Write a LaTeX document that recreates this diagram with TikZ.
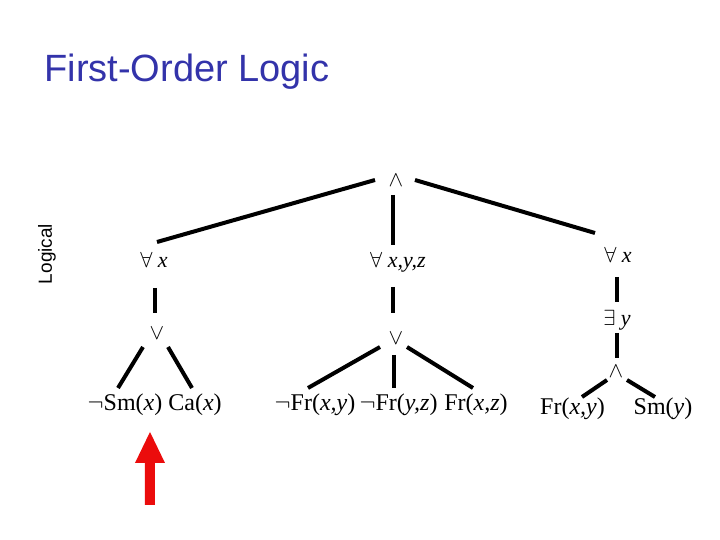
\documentclass[tikz,border=0pt]{standalone}
\usepackage{fontspec}
\setmainfont{Liberation Serif}
\newfontfamily\titlefont{Liberation Sans}
\usetikzlibrary{calc}
\definecolor{titleblue}{RGB}{51,51,170}
\definecolor{arrowred}{RGB}{235,12,12}
\begin{document}
\begin{tikzpicture}[x=0.5pt,y=-0.5pt,
  lbl/.style={inner sep=0pt,anchor=base,font=\fontsize{11}{13}\selectfont},
  leaf/.style={inner sep=0pt,anchor=base,font=\fontsize{12}{14}\selectfont},
  edge/.style={line width=2pt,black}]
\useasboundingbox (0,0) rectangle (720,540);
\fill[white] (0,0) rectangle (720,540);
% title and side label
\node[inner sep=0pt,anchor=base west,text=titleblue,font=\titlefont\fontsize{19}{23}\selectfont] (title) at (44,82) {First-Order Logic};
\node[inner sep=0pt,anchor=base,rotate=90,font=\titlefont\fontsize{9.5}{11}\selectfont] (side) at (52,254) {Logical};
% internal nodes
\node[lbl] (top)  at (396,187) {$\wedge$};
\node[lbl] (fxL)  at (154,268) {$\forall$ \textit{x}};
\node[lbl] (fxyz) at (398,268) {$\forall$ \textit{x,y,z}};
\node[lbl] (fxR)  at (618,263) {$\forall$ \textit{x}};
\node[lbl] (eyR)  at (617,326) {$\exists$ \textit{y}};
\node[lbl] (orL)  at (157,340) {$\vee$};
\node[lbl] (orM)  at (396,345) {$\vee$};
\node[lbl] (andR) at (616,378) {$\wedge$};
% leaves
\node[leaf] (SmL) at (125,411) {$\neg$Sm(\textit{x})};
\node[leaf] (CaL) at (195,411) {Ca(\textit{x})};
\node[leaf] (Fr1) at (315,411) {$\neg$Fr(\textit{x,y})};
\node[leaf] (Fr2) at (398.5,411) {$\neg$Fr(\textit{y,z})};
\node[leaf] (Fr3) at (476,411) {Fr(\textit{x,z})};
\node[leaf] (FrR) at (572.5,415) {Fr(\textit{x,y})};
\node[leaf] (SmR) at (663,415) {Sm(\textit{y})};
% edges
\draw[edge] ($(top.base)+(-21,-7)$) -- ($(fxL.base)+(3,-26)$);
\draw[edge] ($(top.base)+(19,-7)$) -- ($(fxR.base)+(-23,-30)$);
\draw[edge] ($(top.base)+(-3,8)$) -- ($(fxyz.base)+(-5,-23)$);
\draw[edge] ($(fxL.base)+(1,20)$) -- ($(orL.base)+(-2,-27)$);
\draw[edge] ($(orL.base)+(-14,7)$) -- ($(SmL.base)+(-7,-23)$);
\draw[edge] ($(orL.base)+(11,7)$) -- ($(CaL.base)+(-3,-23)$);
\draw[edge] ($(fxyz.base)+(-5,19)$) -- ($(orM.base)+(-3,-32)$);
\draw[edge] ($(orM.base)+(-16,2)$) -- ($(Fr1.base)+(-7,-23)$);
\draw[edge] ($(orM.base)+(-2,10)$) -- ($(Fr2.base)+(-4.5,-23)$);
\draw[edge] ($(orM.base)+(11,2)$) -- ($(Fr3.base)+(-3,-23)$);
\draw[edge] ($(fxR.base)+(-1,14)$) -- ($(eyR.base)+(0,-24)$);
\draw[edge] ($(eyR.base)+(0,7)$) -- ($(andR.base)+(1,-20)$);
\draw[edge] ($(andR.base)+(-9,2)$) -- ($(FrR.base)+(9.5,-18)$);
\draw[edge] ($(andR.base)+(11,2)$) -- ($(SmR.base)+(-8,-18)$);
% red arrow
\coordinate (tip) at (150,432);
\fill[arrowred] (tip) -- ($(tip)+(15,31)$) -- ($(tip)+(5,31)$) -- ($(tip)+(5,73)$) -- ($(tip)+(-5,73)$) -- ($(tip)+(-5,31)$) -- ($(tip)+(-15,31)$) -- cycle;
\end{tikzpicture}
\end{document}
